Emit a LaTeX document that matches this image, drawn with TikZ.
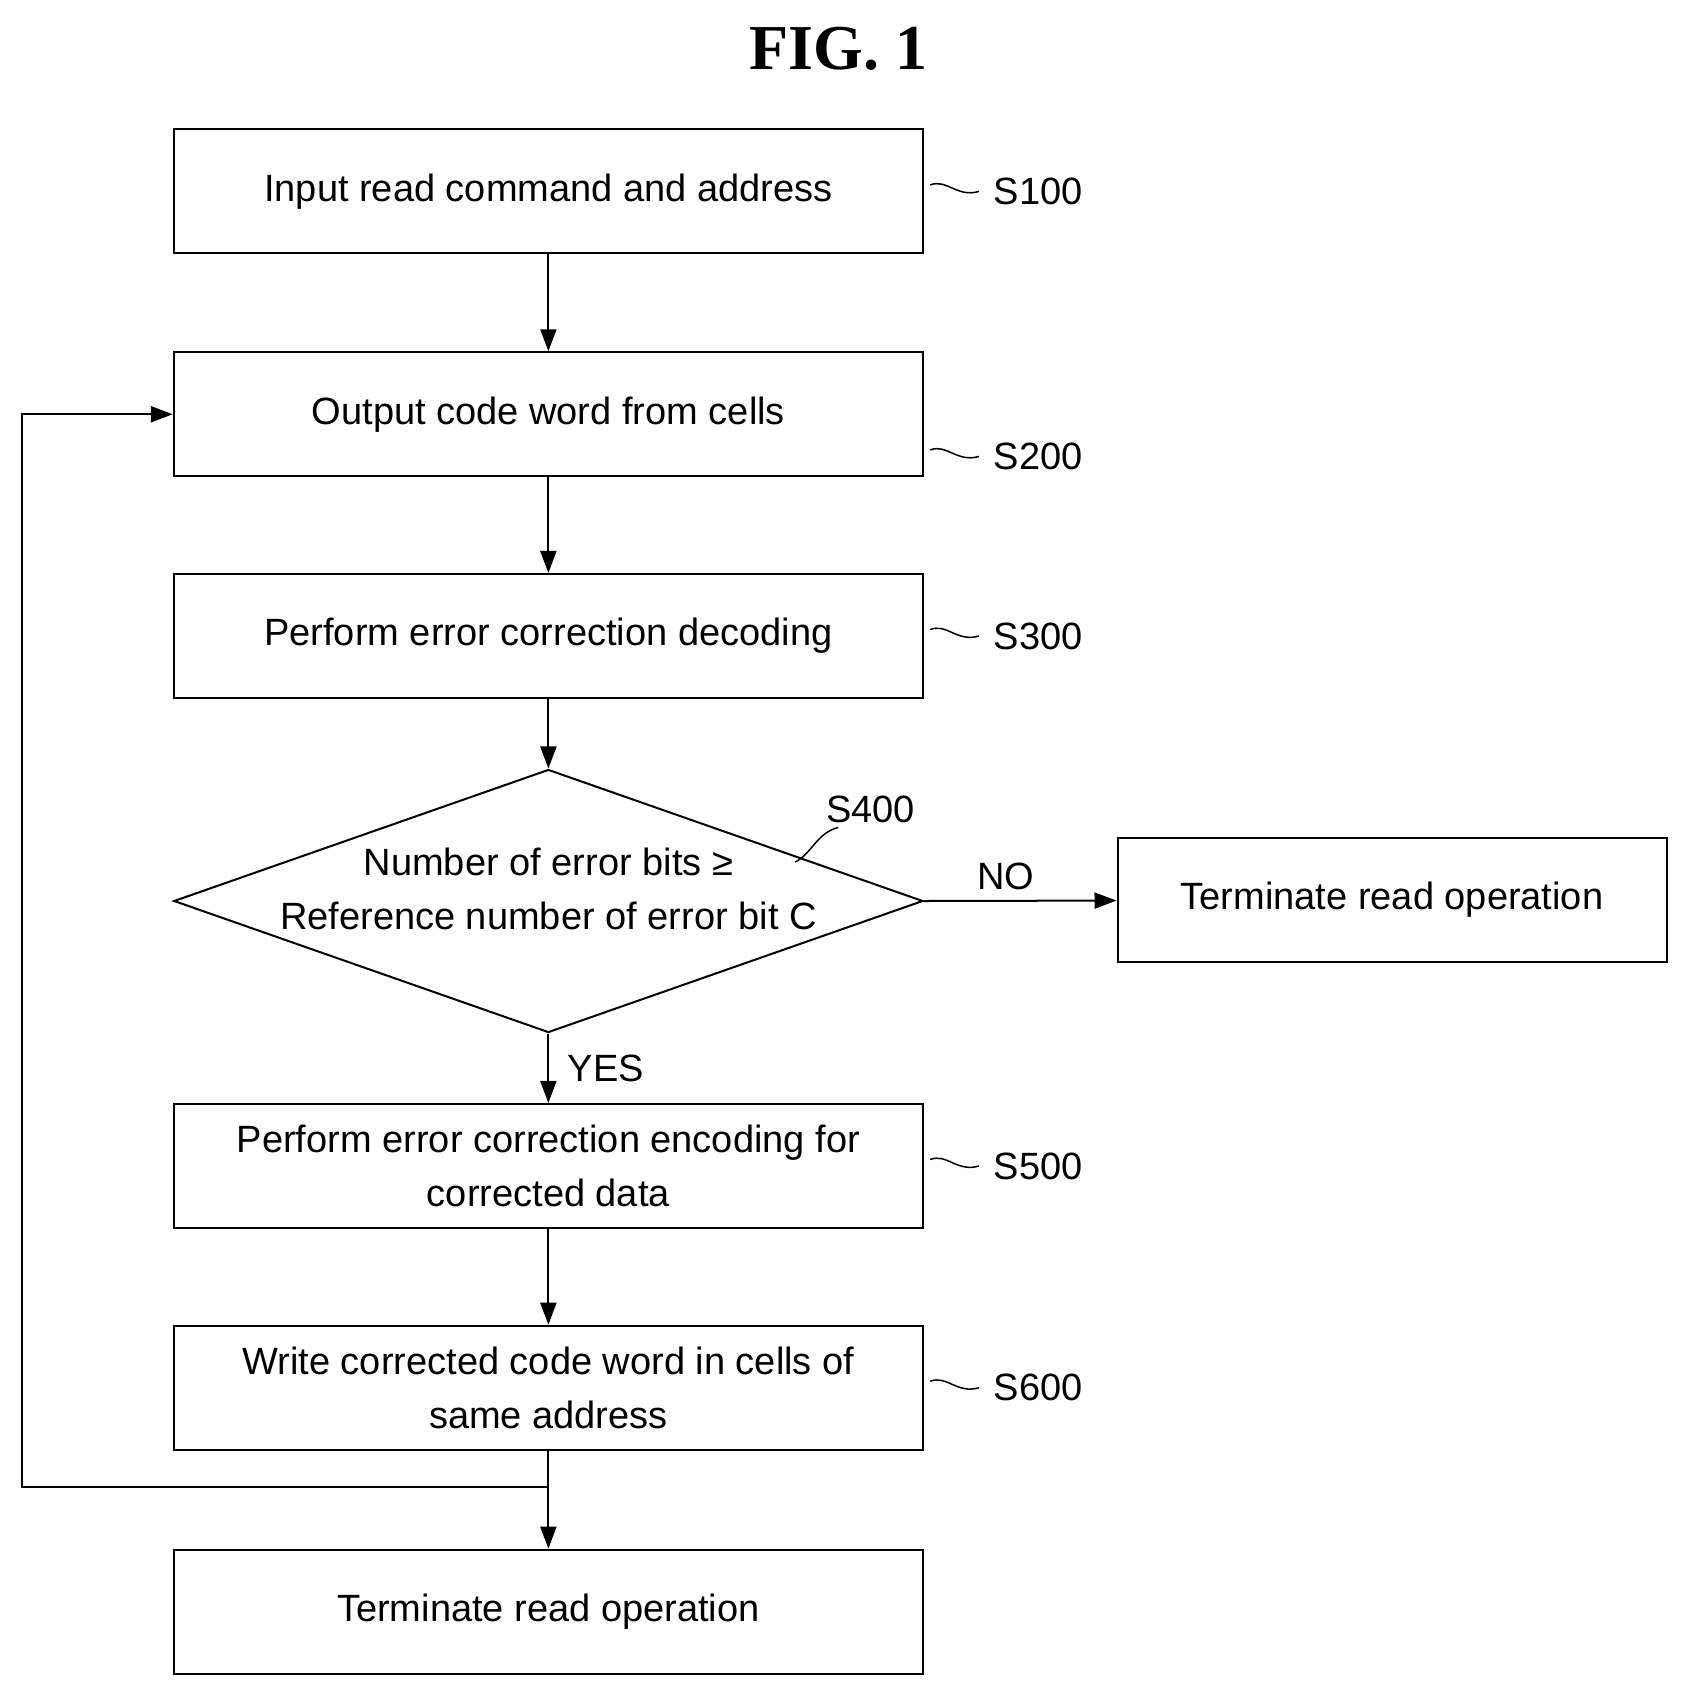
\documentclass[tikz,border=0pt]{standalone}
\usepackage{fontspec}
\setmainfont{Liberation Sans}
\newfontfamily\titlefont{Liberation Serif}
\usetikzlibrary{shapes.geometric,arrows.meta}
\begin{document}
\begin{tikzpicture}[x=1.0814pt,y=-1.0814pt,
  box/.style={draw,line width=2pt,minimum width=749pt,minimum height=124pt,align=center,font=\fontsize{38}{54}\selectfont,inner sep=0pt},
  lab/.style={font=\fontsize{38}{40}\selectfont},
  arr/.style={line width=2pt,-{Triangle[length=22pt,width=16pt]}},
  tl/.style={line width=1.5pt}]
\useasboundingbox (0,0) rectangle (1560,1568);
\node[font=\titlefont\bfseries\fontsize{64}{64}\selectfont] (title) at (775,45) {FIG. 1};
\node[box] (b1) at (507,177) {Input read command and address};
\node[box] (b2) at (507,383) {Output code word from cells};
\node[box] (b3) at (507,588) {Perform error correction decoding};
\node[draw,diamond,line width=2pt,aspect=2.85,minimum width=749pt,minimum height=263pt,inner sep=0pt] (d) at (507,833) {};
\node[align=center,font=\fontsize{38}{54}\selectfont] (dt) at (507,822) {Number of error bits ≥\\Reference number of error bit C};
\node[box,minimum width=549pt] (r) at (1287,832) {Terminate read operation};
\node[box] (b5) at (507,1078) {Perform error correction encoding for\\corrected data};
\node[box] (b6) at (507,1283) {Write corrected code word in cells of\\same address};
\node[box] (b7) at (507,1490) {Terminate read operation};
\node[lab] (s1) at (960,177) {S100};
\node[lab] (s2) at (960,422) {S200};
\node[lab] (s3) at (960,588) {S300};
\node[lab] (s4) at (805,748) {S400};
\node[lab] (s5) at (960,1078) {S500};
\node[lab] (s6) at (960,1283) {S600};
\node[lab] (no) at (930,810) {NO};
\node[lab] (yes) at (560,988) {YES};
\foreach \y in {177,422,588,1078,1283}{
  \draw[tl] (860,\y-6) .. controls (875,\y-12) and (885,\y+6) .. (905,\y);}
\draw[tl] (735,797) .. controls (750,790) and (755,770) .. (775,765);
\draw[arr] (b1) -- (b2);
\draw[arr] (b2) -- (b3);
\draw[arr] (b3) -- (d.north);
\draw[arr] (d.east) -- (r);
\draw[arr] (d.south) -- (b5);
\draw[arr] (b5) -- (b6);
\draw[arr] (b6) -- (b7);
\coordinate (j) at (507,1375);
\coordinate (c1) at (20,1375);
\coordinate (c2) at (20,383);
\draw[arr] (j) -- (c1) -- (c2) -- (b2.west);
\end{tikzpicture}
\end{document}
